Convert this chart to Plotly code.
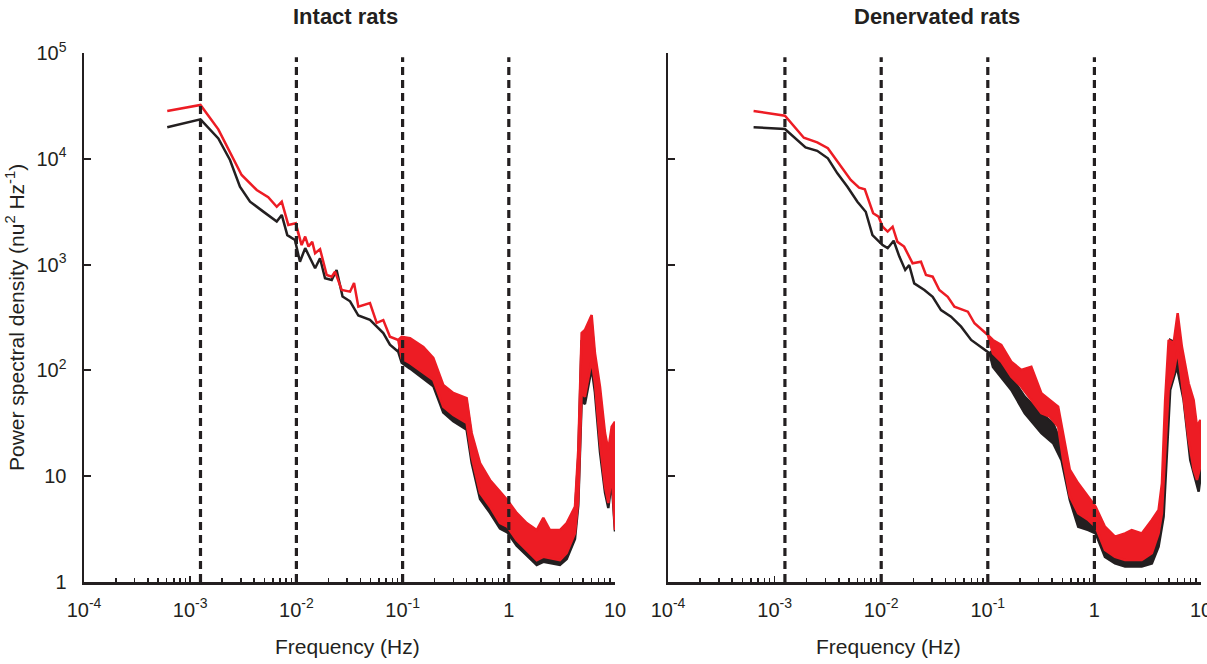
import plotly.graph_objects as go

# ---------------- data ----------------
# Band edge frequencies (dashed lines), Hz
band_edges = [0.00125, 0.01, 0.1, 1.0]

# Intact rats - black curve: low-frequency line part
intact_black_f = [0.000608, 0.00125, 0.00184, 0.00237, 0.00294, 0.00366, 0.00488, 0.00653, 0.00728,
                  0.00821, 0.00969, 0.0108, 0.0121, 0.0150, 0.0167, 0.0186, 0.0215, 0.0239, 0.0272,
                  0.0320, 0.0383, 0.0493, 0.0658, 0.0760, 0.0910]
intact_black_p = [19900, 23600, 15600, 9750, 5450, 3930, 3160, 2550, 2950,
                  1900, 1710, 1065, 1430, 923, 1150, 743, 716, 890, 500,
                  450, 330, 300, 225, 175, 150]
# Intact rats - black curve: high-frequency noisy band (upper / lower envelope)
intact_black_band_f = [0.098, 0.1175, 0.1567, 0.1946, 0.2415, 0.300, 0.401, 0.447, 0.536, 0.665,
                       0.826, 0.968, 1.186, 1.473, 1.832, 2.113, 2.44, 3.03, 3.51, 4.20,
                       4.51, 4.85, 5.21, 6.03, 6.47, 7.22, 8.05, 8.65, 9.31, 10.0]
intact_black_band_hi = [190, 185, 152, 120, 66, 56, 50, 23.5, 12.2, 8.5,
                        6.6, 5.5, 4.1, 3.3, 2.85, 3.3, 2.85, 2.85, 3.3, 4.6,
                        15, 190, 200, 280, 125, 60, 22, 15.5, 25, 28]
intact_black_band_lo = [118, 104, 83, 71, 40, 33, 27.5, 13.4, 6.1, 4.5,
                        3.2, 2.95, 2.2, 1.78, 1.45, 1.55, 1.5, 1.45, 1.65, 2.55,
                        5.3, 52, 48, 105, 62, 17, 7.0, 5.0, 9.0, 3.0]

# Intact rats - red curve
intact_red_f = [0.000608, 0.00125, 0.00184, 0.00305, 0.00423, 0.00543, 0.00653, 0.00728, 0.00839,
                0.00986, 0.0104, 0.0112, 0.0121, 0.0130, 0.0141, 0.0150, 0.0167, 0.0193, 0.0215,
                0.0231, 0.0267, 0.0320, 0.0349, 0.0383, 0.0493, 0.0570, 0.0658, 0.0760, 0.0910]
intact_red_p = [28300, 32300, 19000, 7030, 5070, 4330, 3520, 3930, 2370,
                2460, 1980, 1530, 1840, 1480, 1640, 1280, 1400, 798, 769,
                857, 576, 555, 670, 400, 433, 281, 299, 208, 194]
intact_red_band_f = [0.098, 0.1175, 0.1567, 0.1946, 0.2415, 0.300, 0.401, 0.447, 0.536, 0.665,
                     0.826, 0.968, 1.186, 1.473, 1.832, 2.113, 2.44, 3.03, 3.51, 4.20,
                     4.51, 4.85, 5.21, 6.03, 6.47, 7.22, 8.05, 8.65, 9.31, 10.0]
intact_red_band_hi = [208, 202, 167, 131, 72.8, 61.1, 54.8, 25.6, 13.3, 9.21,
                      7.14, 5.96, 4.49, 3.61, 3.10, 4.03, 3.10, 3.10, 3.61, 5.15,
                      17.7, 225, 241, 334, 146, 70.2, 25.6, 17.7, 29.4, 32.7]
intact_red_band_lo = [130, 117, 94.4, 81.1, 45.4, 37.9, 31.8, 15.3, 6.93, 5.15,
                      3.61, 3.33, 2.49, 2.01, 1.61, 1.73, 1.69, 1.61, 1.88, 2.90,
                      5.96, 61.1, 56.4, 125, 76.0, 20.6, 7.96, 5.58, 10.7, 3.10]

# Denervated rats - black curve
denerv_black_f = [0.000635, 0.00125, 0.00195, 0.00251, 0.00316, 0.00388, 0.00482, 0.00598, 0.00716,
                  0.00828, 0.0103, 0.0115, 0.0131, 0.0148, 0.0168, 0.0183, 0.0204, 0.0254, 0.0304,
                  0.0364, 0.0452, 0.0562, 0.0698, 0.0867, 0.104]
denerv_black_p = [19900, 19100, 12800, 11900, 10100, 7290, 5450, 3930, 3160,
                  1900, 1530, 1430, 1680, 1190, 890, 991, 665, 576, 497,
                  372, 322, 259, 194, 167, 145]
denerv_black_band_f = [0.1117, 0.166, 0.222, 0.318, 0.410, 0.491, 0.588, 0.705, 0.877, 1.026,
                       1.256, 1.56, 1.94, 2.78, 3.46, 4.00, 4.46, 4.79, 5.14, 5.94,
                       6.87, 7.93, 8.83, 9.51, 10.0]
denerv_black_band_hi = [156, 87.3, 56.4, 39.4, 31.6, 20.5, 10.6, 7.41, 5.15, 4.46,
                        2.88, 2.32, 2.32, 2.49, 2.88, 3.85, 8.57, 75.5, 194, 180,
                        87.3, 36.5, 20.5, 19.0, 22.0]
denerv_black_band_lo = [108, 65.3, 39.4, 25.5, 20.5, 14.2, 5.96, 3.33, 3.10, 2.88,
                        1.73, 1.50, 1.40, 1.40, 1.50, 2.16, 4.14, 17.7, 65.3, 108,
                        52.5, 14.2, 9.21, 7.14, 10.6]

# Denervated rats - red curve
denerv_red_f = [0.000635, 0.00125, 0.00188, 0.00251, 0.00316, 0.00402, 0.00518, 0.00620, 0.00702,
                0.00840, 0.00944, 0.0103, 0.0115, 0.0128, 0.0142, 0.0164, 0.0197, 0.0236, 0.0263,
                0.0304, 0.0351, 0.0421, 0.0486, 0.0650, 0.0750, 0.100]
denerv_red_p = [28300, 25500, 15800, 14300, 12600, 9060, 6310, 5330, 5150,
                3060, 2840, 2280, 2050, 2280, 1640, 1480, 1030, 1065, 798,
                769, 576, 497, 400, 359, 279, 216]
denerv_red_band_f = [0.1117, 0.1337, 0.166, 0.206, 0.256, 0.318, 0.381, 0.457, 0.509, 0.588,
                     0.705, 0.877, 1.026, 1.256, 1.56, 1.94, 2.24, 2.78, 3.46, 4.00,
                     4.30, 4.61, 4.97, 5.53, 6.04, 6.62, 7.66, 8.53, 9.17, 9.85, 10.0]
denerv_red_band_hi = [194, 174, 121, 101, 108, 60.8, 52.5, 45.4, 25.5, 11.5,
                      8.57, 6.40, 5.15, 3.33, 2.68, 2.88, 3.10, 2.88, 3.85, 4.79,
                      8.57, 52.5, 194, 180, 347, 167, 75.5, 52.5, 29.4, 34.0, 25.5]
denerv_red_band_lo = [145, 121, 87.3, 70.2, 52.5, 39.4, 36.5, 29.4, 14.2, 6.40,
                      4.46, 3.85, 3.33, 2.01, 1.73, 1.61, 1.61, 1.61, 1.87, 2.88,
                      4.46, 17.7, 65.3, 94.0, 156, 75.5, 22.0, 11.5, 9.21, 12.3, 12.3]

x_tickvals = [1e-4, 1e-3, 1e-2, 1e-1, 1, 10]
x_ticktext = ["10<sup>-4</sup>", "10<sup>-3</sup>", "10<sup>-2</sup>", "10<sup>-1</sup>", "1", "10"]
y_tickvals = [1, 10, 100, 1e3, 1e4, 1e5]
y_ticktext = ["1", "10", "10<sup>2</sup>", "10<sup>3</sup>", "10<sup>4</sup>", "10<sup>5</sup>"]

# ---------------- styling ----------------
BLACK = "#231f20"
RED = "#ed1c24"
FONT = "Liberation Sans, Arial, sans-serif"
W, H = 1207, 664
# target axis positions in window pixels
AX_L, AX_R1, AX_L2, AX_R2, AX_T, AX_B = 84, 615, 668, 1201, 53, 582
ML, MT = AX_L, AX_T
MR = W - AX_R2
MB = H - AX_B
PW, PH = W - ML - MR, H - MT - MB


def px_x(p):
    return (p - ML) / PW


def px_y(p):
    return (H - MB - p) / PH


fig = go.Figure()


def add_curve(f_line, p_line, f_band, hi, lo, color, xa, ya):
    xs = list(f_line) + list(f_band) + list(f_band)[::-1] + list(f_line)[::-1]
    ys = list(p_line) + list(lo) + list(hi)[::-1] + list(p_line)[::-1]
    fig.add_trace(go.Scatter(x=xs, y=ys, mode="lines", fill="toself", fillcolor=color,
                             line=dict(color=color, width=2.5), xaxis=xa, yaxis=ya,
                             showlegend=False, hoverinfo="skip"))


add_curve(intact_black_f, intact_black_p, intact_black_band_f, intact_black_band_hi,
          intact_black_band_lo, BLACK, "x", "y")
add_curve(intact_red_f, intact_red_p, intact_red_band_f, intact_red_band_hi,
          intact_red_band_lo, RED, "x", "y")
add_curve(denerv_black_f, denerv_black_p, denerv_black_band_f, denerv_black_band_hi,
          denerv_black_band_lo, BLACK, "x2", "y2")
add_curve(denerv_red_f, denerv_red_p, denerv_red_band_f, denerv_red_band_hi,
          denerv_red_band_lo, RED, "x2", "y2")

for xa, ya in (("x", "y"), ("x2", "y2")):
    for fe in band_edges:
        fig.add_trace(go.Scatter(x=[fe, fe], y=[1, 10 ** 4.96], mode="lines",
                                 line=dict(color=BLACK, width=3.2, dash="8px,5px"),
                                 xaxis=xa, yaxis=ya, showlegend=False, hoverinfo="skip"))

minor_x = [m * 10.0 ** e for e in range(-4, 1) for m in range(2, 10)]

xstyle = dict(type="log", range=[-4, 1], showline=True, linecolor=BLACK, linewidth=2.5,
              ticks="inside", ticklen=6, tickwidth=1.8, tickcolor=BLACK,
              tickmode="array", tickvals=x_tickvals, ticktext=x_ticktext,
              showgrid=False, zeroline=False, ticklabelstandoff=8, automargin=False,
              ticklabeloverflow="allow",
              tickfont=dict(family=FONT, size=20, color=BLACK),
              minor=dict(tickmode="array", tickvals=minor_x, ticks="inside", ticklen=4,
                         tickwidth=1.5, tickcolor=BLACK, showgrid=False))
ystyle = dict(type="log", range=[0, 5], showline=True, linecolor=BLACK, linewidth=2.5,
              ticks="inside", ticklen=7, tickwidth=2, tickcolor=BLACK,
              tickmode="array", tickvals=y_tickvals, ticktext=y_ticktext,
              showgrid=False, zeroline=False, ticklabelstandoff=11, automargin=False,
              tickfont=dict(family=FONT, size=20, color=BLACK))

d1 = (AX_R1 - AX_L) / PW
d2 = (AX_L2 - AX_L) / PW

fig.update_layout(
    width=W, height=H,
    margin=dict(l=ML, r=MR, t=MT, b=MB, autoexpand=False),
    paper_bgcolor="white", plot_bgcolor="white",
    showlegend=False,
    xaxis=dict(domain=[0, d1], anchor="y", **xstyle),
    yaxis=dict(domain=[0, 1], anchor="x", **ystyle),
    xaxis2=dict(domain=[d2, 1], anchor="y2", **xstyle),
    yaxis2=dict(domain=[0, 1], anchor="x2", showticklabels=False, **ystyle),
    annotations=[
        dict(text="<b>Intact rats</b>", x=px_x(345), y=px_y(16), xref="paper", yref="paper",
             showarrow=False, xanchor="center", yanchor="middle",
             font=dict(family=FONT, size=22, color=BLACK)),
        dict(text="<b>Denervated rats</b>", x=px_x(937), y=px_y(16), xref="paper", yref="paper",
             showarrow=False, xanchor="center", yanchor="middle",
             font=dict(family=FONT, size=22, color=BLACK)),
        dict(text="Frequency (Hz)", x=px_x(347), y=px_y(646), xref="paper", yref="paper",
             showarrow=False, xanchor="center", yanchor="middle",
             font=dict(family=FONT, size=21, color=BLACK)),
        dict(text="Frequency (Hz)", x=px_x(888), y=px_y(646), xref="paper", yref="paper",
             showarrow=False, xanchor="center", yanchor="middle",
             font=dict(family=FONT, size=21, color=BLACK)),
        dict(text="Power spectral density (nu<sup>2</sup> Hz<sup>-1</sup>)", x=px_x(15), y=px_y(318),
             xref="paper", yref="paper", showarrow=False, textangle=-90,
             xanchor="center", yanchor="middle",
             font=dict(family=FONT, size=21, color=BLACK)),
    ],
)

fig.write_html("out.html",
               config={"displayModeBar": False, "staticPlot": True},
               post_script="document.body.style.margin='0px';document.body.style.overflow='hidden';")
